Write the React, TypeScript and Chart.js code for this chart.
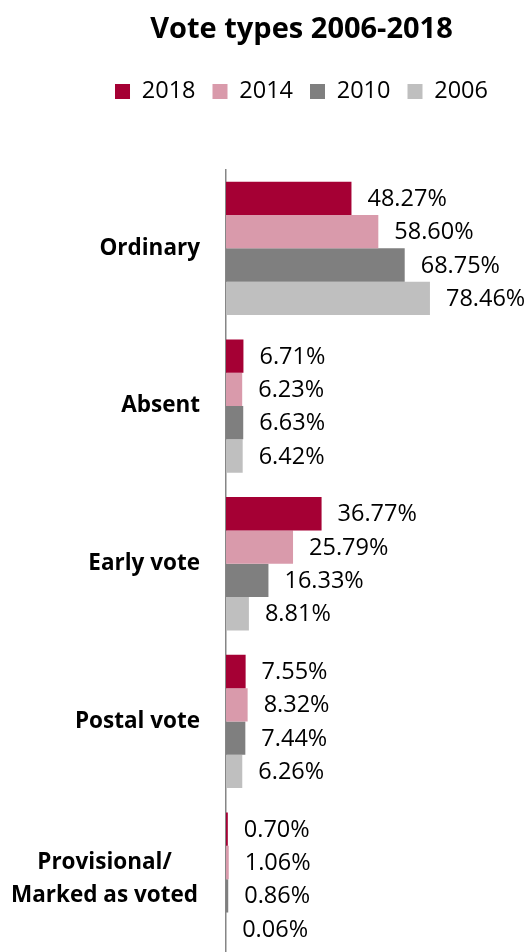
import { useEffect, useRef } from "react";
import { Chart, registerables } from "chart.js";

Chart.register(...registerables);

const categories: (string | string[])[] = [
  "Ordinary",
  "Absent",
  "Early vote",
  "Postal vote",
  ["Provisional/", "Marked as voted"],
];
const seriesNames = ["2018", "2014", "2010", "2006"];
const values2018 = [48.27, 6.71, 36.77, 7.55, 0.7];
const values2014 = [58.6, 6.23, 25.79, 8.32, 1.06];
const values2010 = [68.75, 6.63, 16.33, 7.44, 0.86];
const values2006 = [78.46, 6.42, 8.81, 6.26, 0.06];
const seriesColors = ["#A50034", "#D99AAB", "#7F7F7F", "#BFBFBF"];

const FONT = "'Open Sans'";

const valueLabels = {
  id: "valueLabels",
  afterDatasetsDraw(chart: any) {
    const ctx = chart.ctx;
    ctx.save();
    ctx.font = `23.5px ${FONT}`;
    ctx.fillStyle = "#000";
    ctx.textAlign = "left";
    ctx.textBaseline = "middle";
    chart.data.datasets.forEach((ds: any, di: number) => {
      const meta = chart.getDatasetMeta(di);
      meta.data.forEach((bar: any, i: number) => {
        ctx.fillText(Number(ds.data[i]).toFixed(2) + "%", bar.x + 16, bar.y + 1);
      });
    });
    ctx.restore();
  },
};

const categoryLabels = {
  id: "categoryLabels",
  afterDraw(chart: any) {
    const ctx = chart.ctx;
    const yScale = chart.scales.y;
    const right = chart.chartArea.left - 26;
    ctx.save();
    ctx.font = `bold 22.5px ${FONT}`;
    ctx.fillStyle = "#000";
    ctx.textAlign = "center";
    ctx.textBaseline = "middle";
    const lineH = 33;
    chart.data.labels.forEach((lab: any, i: number) => {
      const lines: string[] = Array.isArray(lab) ? lab : [lab];
      const maxW = Math.max(...lines.map((l) => ctx.measureText(l).width));
      const cx = right + (lines.length > 1 ? -2 : 0) - maxW / 2;
      const cy = yScale.getPixelForValue(i);
      const startY = cy - ((lines.length - 1) * lineH) / 2;
      lines.forEach((l, k) => ctx.fillText(l, cx, startY + k * lineH));
    });
    ctx.restore();
  },
};

export default function App() {
  const canvasRef = useRef<HTMLCanvasElement | null>(null);

  useEffect(() => {
    if (!canvasRef.current) return;
    const allValues = [values2018, values2014, values2010, values2006];
    const chart = new Chart(canvasRef.current, {
      type: "bar",
      data: {
        labels: categories as any,
        datasets: seriesNames.map((name, i) => ({
          label: name,
          data: allValues[i],
          backgroundColor: seriesColors[i],
          borderWidth: 0,
          barPercentage: 1,
          categoryPercentage: 0.845,
        })),
      },
      options: {
        indexAxis: "y",
        animation: false,
        responsive: true,
        maintainAspectRatio: false,
        layout: { padding: { left: 76, right: 0, top: 0, bottom: 0 } },
        plugins: {
          title: {
            display: true,
            text: "Vote types 2006-2018",
            color: "#000",
            font: { family: FONT, size: 29, weight: "bold" },
            padding: { top: 12, bottom: 16 },
          },
          subtitle: {
            display: true,
            text: "",
            font: { family: FONT, size: 1 },
            padding: { top: 0, bottom: 55 },
            weight: 500,
          } as any,
          legend: {
            display: true,
            position: "top",
            labels: {
              boxWidth: 15,
              boxHeight: 15,
              padding: 17,
              color: "#000",
              font: { family: FONT, size: 23.5 },
            },
          },
          tooltip: { enabled: false },
        },
        scales: {
          x: { display: false, min: 0, max: 115.8 },
          y: {
            ticks: { display: false },
            grid: { display: false, drawTicks: false },
            border: { display: true, color: "#868686", width: 1.5 },
            afterFit: (s: any) => {
              s.width = 150;
            },
          },
        },
      },
      plugins: [valueLabels, categoryLabels],
    });
    return () => chart.destroy();
  }, []);

  return (
    <div
      style={{
        position: "fixed",
        left: 0,
        top: 0,
        width: 527,
        height: 952,
        overflow: "hidden",
        background: "#fff",
      }}
    >
      <div style={{ position: "relative", width: 527, height: 958 }}>
        <canvas ref={canvasRef} />
      </div>
    </div>
  );
}
